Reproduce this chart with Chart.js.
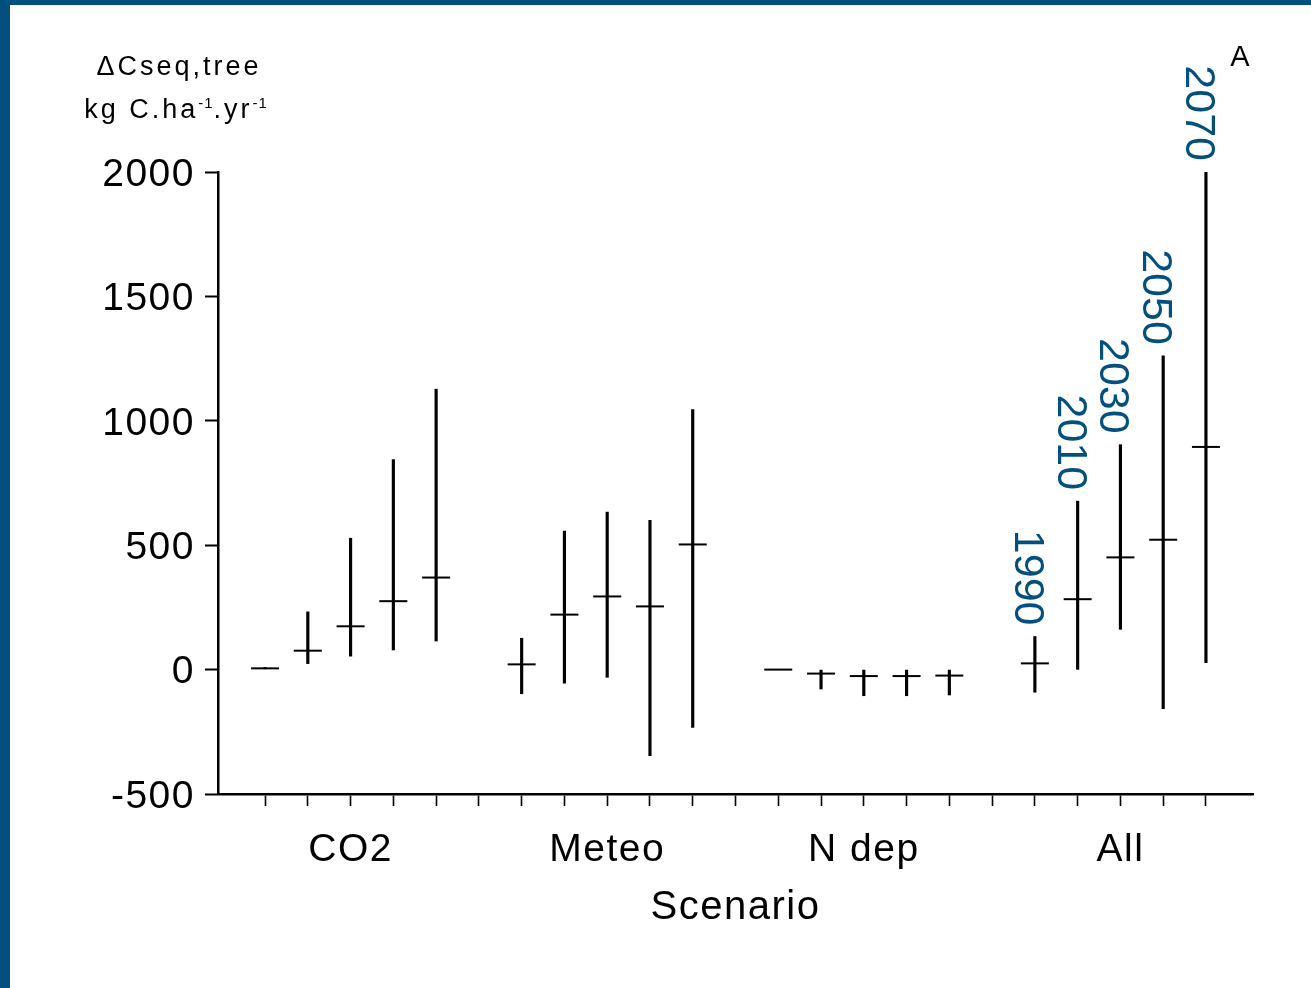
<!DOCTYPE html>
<html>
<head>
<meta charset="utf-8">
<script src="https://cdn.jsdelivr.net/npm/chart.js@4.4.1/dist/chart.umd.min.js"></script>
<style>
  html, body { margin: 0; padding: 0; background: #fff; }
  #wrap { position: relative; width: 1311px; height: 988px; }
  #frame { position: absolute; left: 0; top: 0; width: 1311px; height: 988px; box-sizing: border-box;
           border-left: 10px solid #03507e; border-top: 5px solid #03507e; pointer-events: none; }
</style>
</head>
<body>
<div id="wrap"><canvas id="chart" width="1311" height="988"></canvas><div id="frame"></div></div>
<script>
// scenarios and years (5 runs per scenario)
const groups = ['CO2', 'Meteo', 'N dep', 'All'];
const years = ['1990', '2010', '2030', '2050', '2070'];

// centre value of each run, one row per scenario
const centre = [
  [5, 76, 174, 275, 370],
  [21, 221, 294, 254, 503],
  [0, -16, -26, -26, -24],
  [25, 283, 451, 522, 895]
];
// lower end of the range
const lower = [
  [3, 24, 54, 79, 115],
  [-97, -55, -31, -346, -232],
  [0, -78, -105, -105, -102],
  [-91, 1, 162, -157, 28]
];
// upper end of the range
const upper = [
  [9, 232, 528, 844, 1127],
  [126, 557, 633, 600, 1045],
  [0, -2, -2, 0, 0],
  [133, 677, 904, 1261, 2000]
];
const yTicks = [-500, 0, 500, 1000, 1500, 2000];

const blue = '#03507e';
const fontName = '"Liberation Sans", Arial, sans-serif';

// x position of run i in group g: 5 runs then an empty slot
const pos = (g, i) => g * 6 + i + 1;

const rangeData = [];
const centreData = [];
groups.forEach((name, g) => {
  years.forEach((yr, i) => {
    rangeData.push({ x: pos(g, i), y: [lower[g][i], upper[g][i]] });
    centreData.push({ x: pos(g, i), y: centre[g][i] });
  });
});

const groupLabel = {};
groups.forEach((name, g) => { groupLabel[pos(g, 2)] = name; });

// year labels above the "All" ranges, plus the free texts
const textPlugin = {
  id: 'texts',
  beforeDraw(chart) {
    // slightly spaced lettering for axis texts
    chart.ctx.letterSpacing = '1.5px';
  },
  afterDatasetsDraw(chart) {
    const ctx = chart.ctx;
    const xs = chart.scales.x, ys = chart.scales.y;
    const g = groups.length - 1;
    ctx.save();
    ctx.letterSpacing = '0px';
    ctx.fillStyle = blue;
    ctx.font = '43px ' + fontName;
    ctx.textAlign = 'right';
    ctx.textBaseline = 'alphabetic';
    years.forEach((yr, i) => {
      const px = xs.getPixelForValue(pos(g, i));
      const py = ys.getPixelForValue(upper[g][i]);
      ctx.save();
      ctx.translate(px - 20, py - 11);
      ctx.rotate(Math.PI / 2);
      ctx.fillText(yr, 0, 0);
      ctx.restore();
    });
    ctx.restore();
  },
  afterDraw(chart) {
    const ctx = chart.ctx;
    ctx.save();
    ctx.fillStyle = '#000';
    ctx.textBaseline = 'alphabetic';
    ctx.letterSpacing = '3px';
    ctx.font = '27px ' + fontName;
    ctx.textAlign = 'center';
    ctx.fillText('ΔCseq,tree', 179, 75);

    // unit line with superscripts
    const parts = [['kg C.ha', 27, 0, 3], ['-1', 15, -10, 1], ['.yr', 27, 0, 3], ['-1', 15, -10, 1]];
    let total = 0;
    parts.forEach(p => {
      ctx.font = p[1] + 'px ' + fontName;
      ctx.letterSpacing = p[3] + 'px';
      total += ctx.measureText(p[0]).width;
    });
    let x = 176 - total / 2;
    ctx.textAlign = 'left';
    parts.forEach(p => {
      ctx.font = p[1] + 'px ' + fontName;
      ctx.letterSpacing = p[3] + 'px';
      ctx.fillText(p[0], x, 118 + p[2]);
      x += ctx.measureText(p[0]).width;
    });

    ctx.letterSpacing = '0px';
    ctx.font = '29px ' + fontName;
    ctx.textAlign = 'center';
    ctx.fillText('A', 1240, 66);
    ctx.restore();
  }
};

new Chart(document.getElementById('chart'), {
  type: 'bar',
  data: {
    datasets: [
      {
        type: 'bar',
        data: rangeData,
        backgroundColor: '#000',
        borderWidth: 0,
        barThickness: 2.5,
        grouped: false
      },
      {
        type: 'scatter',
        data: centreData,
        pointStyle: 'line',
        pointRadius: 14,
        pointBorderWidth: 2,
        pointBorderColor: '#000',
        showLine: false
      }
    ]
  },
  options: {
    responsive: false,
    animation: false,
    events: [],
    layout: { padding: { top: 172, right: 58, left: 0, bottom: 0 } },
    plugins: { legend: { display: false }, tooltip: { enabled: false } },
    scales: {
      x: {
        type: 'linear',
        min: -0.1,
        max: 24.1,
        offset: false,
        afterBuildTicks: s => { s.ticks = []; for (let v = 1; v <= 23; v++) s.ticks.push({ value: v }); },
        afterFit: s => { s.height = 194; },
        grid: { drawOnChartArea: false, offset: false, tickLength: 12, tickWidth: 1.6, tickColor: '#000' },
        border: { color: '#000', width: 2.5 },
        ticks: {
          autoSkip: false, maxRotation: 0, padding: 21, color: '#000',
          font: { family: fontName, size: 39 },
          callback: v => groupLabel[v] || ''
        },
        title: {
          display: true, text: 'Scenario', color: '#000',
          font: { family: fontName, size: 40 },
          padding: { top: 0, bottom: 56 }
        }
      },
      y: {
        min: -500,
        max: 2000,
        afterBuildTicks: s => { s.ticks = yTicks.map(v => ({ value: v })); },
        afterFit: s => { s.width = 218; },
        grid: { drawOnChartArea: false, tickLength: 13, tickWidth: 2, tickColor: '#000' },
        border: { color: '#000', width: 2.5 },
        ticks: {
          padding: 10, labelOffset: 3, color: '#000',
          font: { family: fontName, size: 39 },
          callback: v => String(v)
        }
      }
    }
  },
  plugins: [textPlugin]
});
</script>
</body>
</html>
